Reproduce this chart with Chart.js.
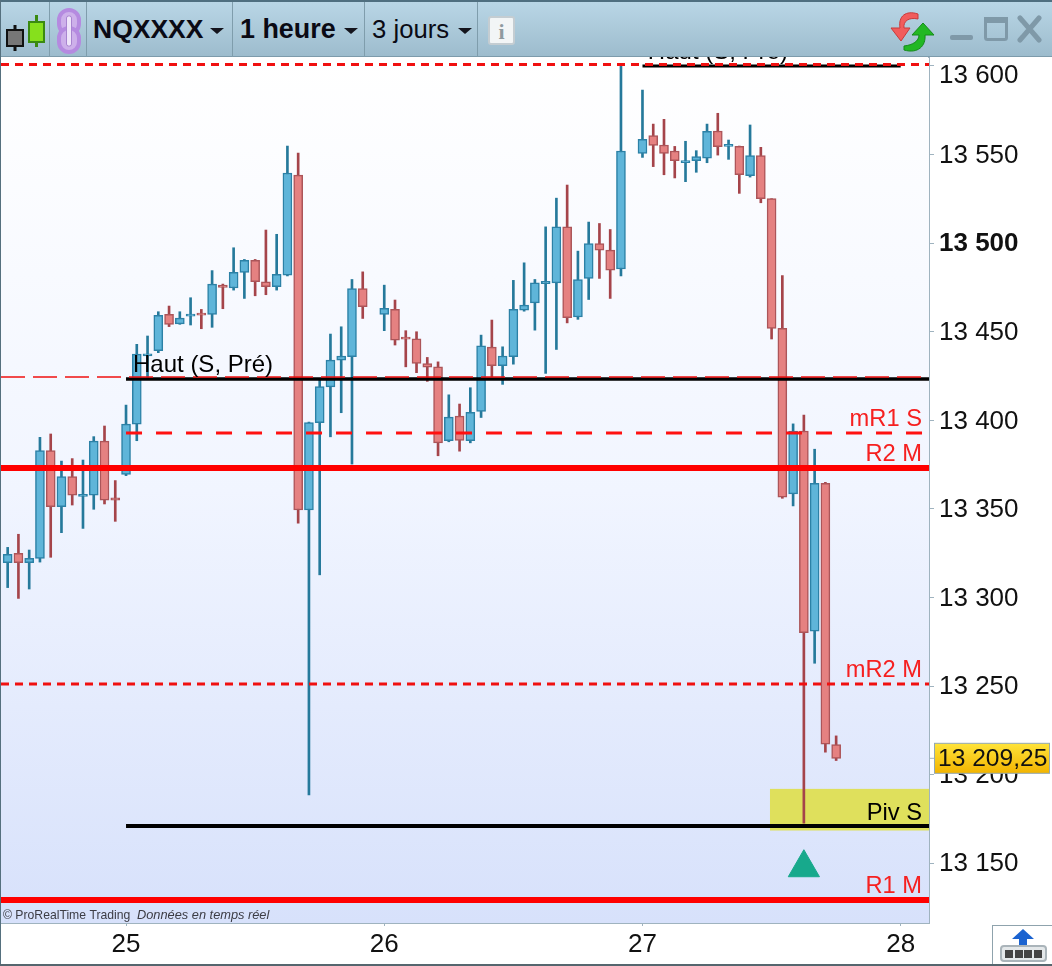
<!DOCTYPE html>
<html lang="fr">
<head>
<meta charset="utf-8">
<title>NQXXXX 1 heure</title>
<script src="https://cdn.jsdelivr.net/npm/chart.js@4"></script>
<style>
html, body { margin: 0; padding: 0; background: #fff; overflow: hidden; }
#wrap { position: relative; width: 1052px; height: 966px; font-family: "Liberation Sans", Arial, sans-serif; }
canvas { position: absolute; left: 0; top: 0; }
#toolbar { position: absolute; left: 0; top: 0; width: 1052px; height: 57px; box-sizing: border-box;
  border-top: 2px solid #4f6f80; border-bottom: 1px solid #7d9bab;
  background: linear-gradient(#b9d6e6, #9dbccd); z-index: 2; }
#toolbar .sep { position: absolute; top: 0; width: 1px; height: 55px; background: #7f9dac; }
#toolbar .txt { position: absolute; top: 10px; line-height: 34px; color: #0a0a14; white-space: nowrap; }
#toolbar .caret { position: absolute; top: 26px; width: 0; height: 0; border-left: 7px solid transparent;
  border-right: 7px solid transparent; border-top: 6px solid #14141c; }
#toolbar svg { position: absolute; }
#frameL { position: absolute; left: 0; top: 0; width: 1px; height: 966px; background: #55707e; z-index: 3; }
#frameB { position: absolute; left: 0; top: 964px; width: 1052px; height: 2px; background: #55666e; z-index: 3; }
#btn { position: absolute; left: 992px; top: 925px; width: 60px; height: 40px; box-sizing: border-box;
  border-left: 1px solid #8fa3ad; border-top: 1px solid #8fa3ad; background: #fff; z-index: 2; }
</style>
</head>
<body>
<div id="wrap">
  <canvas id="chart" width="1052" height="966"></canvas>
  <div id="toolbar">
    <svg style="left:4px;top:6px" width="44" height="44" viewBox="0 0 44 44">
      <rect x="9.5" y="17" width="3" height="26" fill="#111"/>
      <rect x="3" y="22" width="16" height="16" fill="#777" stroke="#111" stroke-width="2"/>
      <rect x="31" y="7" width="3" height="32" fill="#3a8a10"/>
      <rect x="25" y="14" width="15" height="20" fill="#86e01c" stroke="#3a8a10" stroke-width="2"/>
    </svg>
    <div class="sep" style="left:49px"></div>
    <svg style="left:56px;top:5px" width="26" height="48" viewBox="0 0 26 48">
      <rect x="3" y="3" width="20" height="24" rx="10" fill="#cdb0ea" stroke="#b58ae0" stroke-width="4"/>
      <rect x="3" y="21" width="20" height="24" rx="10" fill="#cdb0ea" stroke="#b58ae0" stroke-width="4"/>
      <rect x="10.5" y="9" width="5" height="30" rx="2" fill="#efe4fa" stroke="#a884d0" stroke-width="1"/>
    </svg>
    <div class="sep" style="left:86px"></div>
    <div class="txt" style="left:93px;font-size:26.5px;font-weight:bold">NQXXXX</div>
    <div class="caret" style="left:210px"></div>
    <div class="sep" style="left:232px"></div>
    <div class="txt" style="left:240px;font-size:26.9px;font-weight:bold">1 heure</div>
    <div class="caret" style="left:344px"></div>
    <div class="sep" style="left:364px"></div>
    <div class="txt" style="left:372px;font-size:25.7px">3 jours</div>
    <div class="caret" style="left:458px"></div>
    <div class="sep" style="left:477px"></div>
    <svg style="left:488px;top:14px" width="27" height="29" viewBox="0 0 27 29">
      <rect x="1" y="1" width="25" height="27" rx="2" fill="#f2f5f6" stroke="#c4cdd2" stroke-width="2"/>
      <text x="13.5" y="23" text-anchor="middle" font-family="Liberation Serif" font-weight="bold" font-size="22" fill="#8f9a9f">i</text>
    </svg>
    <svg style="left:888px;top:6px" width="52" height="46" viewBox="0 0 52 46">
      <path d="M30 6 C18 2 10 8 12 20 L3 20 L13 33 L22 20 L16 20 C15 13 21 9 30 11 Z" fill="#f15c5c" stroke="#c93a3a" stroke-width="1"/>
      <path d="M16 42 C30 46 38 38 37 27 L46 27 L35 15 L24 27 L31 27 C31 33 25 37 16 38 Z" fill="#22b824" stroke="#148a18" stroke-width="1"/>
    </svg>
    <svg style="left:945px;top:12px" width="100" height="30" viewBox="0 0 100 30">
      <rect x="5" y="21" width="23" height="5" rx="2" fill="#7f99a8"/>
      <rect x="40.5" y="4.5" width="21" height="21" rx="2" fill="none" stroke="#7f99a8" stroke-width="3"/>
      <rect x="39" y="3" width="24" height="6" fill="#7f99a8"/>
      <path d="M75 4 L94 26 M94 4 L75 26" stroke="#7f99a8" stroke-width="5" stroke-linecap="round"/>
    </svg>
  </div>
  <div id="frameL"></div>
  <div id="frameB"></div>
  <div id="btn">
    <svg width="58" height="38" viewBox="0 0 58 38">
      <path d="M30 3 L41 13 L34 13 L34 22 L26 22 L26 13 L19 13 Z" fill="#1b63d0"/>
      <rect x="8" y="20" width="45" height="15" rx="3" fill="#e4e8ea" stroke="#aab4ba" stroke-width="2"/>
      <rect x="12" y="24" width="8" height="8" fill="#444"/>
      <rect x="22" y="24" width="8" height="8" fill="#444"/>
      <rect x="31" y="24" width="8" height="8" fill="#444"/>
      <rect x="41" y="24" width="8" height="8" fill="#444"/>
    </svg>
  </div>
</div>
<script>
// heures depuis le 25 (pas de bougie a 23 et 47)
const hours = [-11,-10,-9,-8,-7,-6,-5,-4,-3,-2,-1,0,1,2,3,4,5,6,7,8,9,10,11,12,13,14,15,16,17,18,19,20,21,22,
  24,25,26,27,28,29,30,31,32,33,34,35,36,37,38,39,40,41,42,43,44,45,46,
  48,49,50,51,52,53,54,55,56,57,58,59,60,61,62,63,64,65,66];
const opens = [13319.7,13325,13319.7,13322.1,13382.9,13351.3,13368.2,13357.1,13357.7,13388.3,13356.2,13369.5,13397.9,13436.4,13439.3,13459.8,13454.4,13458.8,13460.6,13459.8,13476.4,13474.7,13483.5,13490.3,13478.2,13475.4,13482,13538.4,13349.4,13398.7,13418.9,13434,13435.9,13474.4,
  13459.8,13462.6,13447,13446,13432.1,13430.2,13388.5,13402.4,13388.5,13405,13441.3,13430.8,13435.9,13462.2,13466.3,13477.2,13477.6,13509.2,13458.3,13480.1,13499.8,13496.1,13485.4,
  13550.7,13560.7,13555.4,13552,13545.4,13546.6,13547.9,13563.3,13554.6,13554.6,13538.1,13549.4,13525.1,13451.9,13358.5,13394,13281,13364.5,13217];
const highs = [13328.3,13335.7,13326.8,13390.4,13392.3,13377,13378.4,13377.6,13390.8,13396.8,13366,13408.6,13442.9,13447.6,13461.3,13464.5,13461.3,13469.2,13462.6,13484.5,13476.9,13497.4,13490.8,13490.8,13507.4,13505,13554.8,13550.8,13399,13422.8,13448.7,13452.8,13479.5,13483.8,
  13476.3,13467.9,13450.6,13450,13435.5,13433,13414.4,13409.2,13418.4,13448.1,13456.6,13441.5,13479,13488.9,13479.5,13509.2,13525.4,13532.8,13495.5,13511.9,13511.1,13507.7,13600,
  13586.4,13567.2,13569.9,13554.6,13557.5,13552.2,13567.2,13573.3,13558.2,13554.8,13566.7,13554.1,13525.1,13481.7,13398,13403,13383.7,13365,13221.9];
const lows = [13305.6,13299.5,13304.8,13320,13322.7,13336.6,13352.2,13339,13349.8,13352.8,13343,13368.8,13388.5,13424,13438.2,13452.9,13454.2,13453.8,13451.7,13452.5,13463,13473.5,13468.8,13470.3,13470.9,13473.5,13481.5,13341.9,13188.6,13312.8,13390.7,13404.3,13375.3,13457.5,
  13450.6,13442.5,13430.2,13426.9,13422,13380,13387.9,13382.6,13387.3,13401.6,13424.6,13420.3,13431.7,13461.6,13450.9,13426.5,13440,13455,13457,13468.2,13480.1,13468.8,13481.5,
  13548.4,13543.2,13538.6,13536.8,13534.7,13540,13545.4,13549.7,13547.3,13528.1,13537.3,13522.8,13445.9,13356,13351.7,13172.6,13262.9,13212.7,13208];
const closes = [13324.4,13319.7,13322.1,13382.9,13351.3,13368.2,13357.7,13358.3,13388.3,13355,13355,13397.9,13437.4,13437.6,13459.2,13454.2,13457.7,13460,13459.3,13476.9,13475,13483.5,13490.3,13478.2,13475.4,13482.4,13539.6,13349.4,13398.7,13419,13434,13436.3,13474.4,13464.1,
  13463.2,13445.3,13445.8,13432.1,13430,13387.3,13401.8,13388.7,13404.5,13442.1,13430.8,13436.3,13462.6,13465,13477.6,13478.4,13509.2,13457.9,13479.5,13499.8,13496.1,13484.8,13552,
  13558.6,13555.2,13550.7,13546.6,13546.6,13548.8,13563.1,13554.4,13555.8,13538.6,13549.4,13525.1,13451.9,13356.6,13394,13280.2,13364.5,13217.2,13209.25];

const levelValues = [13600.8, 13600, 13424.5, 13423.3, 13392.8, 13373.1, 13251.2, 13171, 13129.3];
const levelStarts = [-11.62, 48, -11.62, 0, 0, -11.62, -11.62, 0, -11.62];
const levelEnds = [74.63, 72, 74.63, 74.63, 74.63, 74.63, 74.63, 74.63, 74.63];

const labelTexts = ['Haut (S, Pré)', 'Haut (S, Pré)', 'mR1 S', 'R2 M', 'mR2 M', 'Piv S', 'R1 M'];
const labelValues = [13607.5, 13431, 13400.6, 13380.7, 13258.8, 13178, 13136.9];
const labelHours = [48.5, 0.65, null, null, null, null, null];

const zoneValues = [13192, 13168.5];
const zoneStart = 59.85;
const signalHour = 63;
const signalValue = 13147.5;
const lastPrice = 13209.25;
const lastPriceText = '13 209,25';

const xTickValues = [0, 24, 48, 72];
const xTickLabels = ['25', '26', '27', '28'];
const yTickValues = [13150, 13200, 13250, 13300, 13350, 13400, 13450, 13500, 13550, 13600];
const yTickLabels = ['13 150', '13 200', '13 250', '13 300', '13 350', '13 400', '13 450', '13 500', '13 550', '13 600'];

const FONT = '"Liberation Sans", Arial, sans-serif';
const isDown = (i) => closes[i] < opens[i];

// styles dans le meme ordre que levelValues
const levelStyles = [
  { color: '#f01010', width: 3, dash: [8, 6] },
  { color: '#000000', width: 3, dash: [] },
  { color: '#f01010', width: 1.4, dash: [24, 8] },
  { color: '#000000', width: 3.5, dash: [] },
  { color: '#ff1010', width: 3, dash: [16, 14] },
  { color: '#ff0000', width: 6, dash: [] },
  { color: '#f01010', width: 3, dash: [8, 6] },
  { color: '#000000', width: 4, dash: [] },
  { color: '#ff0000', width: 6, dash: [] },
];

const backdrop = {
  id: 'backdrop',
  beforeDatasetsDraw(chart) {
    const { ctx, chartArea, scales } = chart;
    const g = ctx.createLinearGradient(0, chartArea.top, 0, chartArea.bottom);
    g.addColorStop(0, '#ffffff');
    g.addColorStop(0.5, '#f1f5ff');
    g.addColorStop(1, '#d7e1fb');
    ctx.save();
    ctx.fillStyle = g;
    ctx.fillRect(chartArea.left, chartArea.top, chartArea.width, chartArea.height);
    const zx = scales.x.getPixelForValue(zoneStart);
    const zy = scales.y.getPixelForValue(zoneValues[0]);
    ctx.fillStyle = '#dfe05c';
    ctx.fillRect(zx, zy, chartArea.right - zx, scales.y.getPixelForValue(zoneValues[1]) - zy);
    ctx.restore();
  },
};

const annotations = {
  id: 'annotations',
  afterDraw(chart) {
    const { ctx, chartArea, scales } = chart;
    ctx.save();
    ctx.textBaseline = 'middle';
    labelTexts.forEach((text, i) => {
      const y = scales.y.getPixelForValue(labelValues[i]);
      if (labelHours[i] !== null) {
        ctx.font = '24px ' + FONT;
        ctx.textAlign = 'left';
        ctx.fillStyle = '#000';
        ctx.fillText(text, scales.x.getPixelForValue(labelHours[i]), y);
      } else {
        ctx.font = '23.7px ' + FONT;
        ctx.textAlign = 'right';
        ctx.fillStyle = text === 'Piv S' ? '#000' : '#f62020';
        ctx.fillText(text, 922, y);
      }
    });

    ctx.textAlign = 'left';
    ctx.fillStyle = '#3c3c44';
    ctx.font = '12.2px ' + FONT;
    ctx.fillText('© ProRealTime Trading', 3, 915.5);
    ctx.font = 'italic 12.8px ' + FONT;
    ctx.fillText('Données en temps réel', 137, 915.5);

    // etiquette du dernier cours
    const py = scales.y.getPixelForValue(lastPrice);
    ctx.strokeStyle = '#9fb3bf';
    ctx.lineWidth = 1;
    ctx.beginPath();
    ctx.moveTo(chartArea.right, py);
    ctx.lineTo(chartArea.right + 5, py);
    ctx.stroke();
    const g = ctx.createLinearGradient(0, py - 15, 0, py + 15);
    g.addColorStop(0, '#ffe43a');
    g.addColorStop(1, '#f2b400');
    ctx.fillStyle = g;
    ctx.fillRect(934.5, py - 15, 115, 30);
    ctx.strokeStyle = '#93a8b2';
    ctx.strokeRect(934.5, py - 15, 115, 30);
    ctx.fillStyle = '#111';
    ctx.font = '24.6px ' + FONT;
    ctx.fillText(lastPriceText, 938, py + 1);
    ctx.restore();
  },
};

const levelDatasets = levelValues.map((value, i) => ({
  type: 'line',
  data: [{ x: levelStarts[i], y: value }, { x: levelEnds[i], y: value }],
  borderColor: levelStyles[i].color,
  borderWidth: levelStyles[i].width,
  borderDash: levelStyles[i].dash,
  pointRadius: 0,
  order: 2,
}));

new Chart(document.getElementById('chart').getContext('2d'), {
  type: 'bar',
  data: {
    datasets: [
      {
        data: hours.map((h, i) => ({ x: h, y: [lows[i], highs[i]] })),
        backgroundColor: (c) => (isDown(c.dataIndex) ? '#a5444a' : '#25799b'),
        barThickness: 2,
        grouped: false,
        order: 5,
      },
      {
        data: hours.map((h, i) => ({ x: h, y: [Math.min(opens[i], closes[i]), Math.max(opens[i], closes[i])] })),
        backgroundColor: (c) => (isDown(c.dataIndex) ? '#e58181' : '#5fb5d9'),
        borderColor: (c) => (isDown(c.dataIndex) ? '#ac5559' : '#2c81a6'),
        borderWidth: 1.5,
        borderSkipped: false,
        barThickness: 9,
        grouped: false,
        order: 4,
      },
      ...levelDatasets,
      {
        type: 'scatter',
        data: [{ x: signalHour, y: signalValue }],
        pointStyle: 'triangle',
        pointRadius: 18,
        backgroundColor: '#17a98c',
        borderColor: '#17a98c',
        order: 1,
      },
    ],
  },
  options: {
    responsive: false,
    animation: false,
    events: [],
    layout: { autoPadding: false, padding: { top: 58, left: 1, right: 0, bottom: 0 } },
    plugins: { legend: { display: false }, tooltip: { enabled: false } },
    scales: {
      x: {
        type: 'linear',
        min: -11.62,
        max: 74.63,
        offset: false,
        afterBuildTicks: (scale) => { scale.ticks = xTickValues.map((value) => ({ value })); },
        afterFit: (scale) => {
          scale.height = 43;
          scale.paddingLeft = 0;
          scale.paddingRight = 0;
        },
        grid: { drawOnChartArea: false, offset: false, color: '#9fb3bf', tickLength: 3 },
        border: { color: '#9fb3bf', width: 2 },
        ticks: {
          autoSkip: false,
          maxRotation: 0,
          padding: 3,
          color: '#111',
          font: { family: FONT, size: 26 },
          callback: (value) => xTickLabels[xTickValues.indexOf(value)],
        },
      },
      y: {
        position: 'right',
        min: 13116.3,
        max: 13604.5,
        afterBuildTicks: (scale) => { scale.ticks = yTickValues.map((value) => ({ value })); },
        afterFit: (scale) => {
          scale.width = 123;
          scale.paddingTop = 0;
          scale.paddingBottom = 0;
        },
        grid: { drawOnChartArea: false, color: '#9fb3bf', tickLength: 5 },
        border: { color: '#9fb3bf', width: 2 },
        ticks: {
          autoSkip: false,
          padding: 5,
          color: '#111',
          font: (c) => {
            const v = c.tick ? c.tick.value : 0;
            return { family: FONT, size: 26, weight: v === 13500 ? 'bold' : 'normal', lineHeight: v === 13600 ? '19px' : '2px' };
          },
          // ligne vide devant le libelle: descend le texte (13 600 passe sous la barre)
          callback: (value) => ['', yTickLabels[yTickValues.indexOf(value)]],
        },
      },
    },
  },
  plugins: [backdrop, annotations],
});
</script>
</body>
</html>
